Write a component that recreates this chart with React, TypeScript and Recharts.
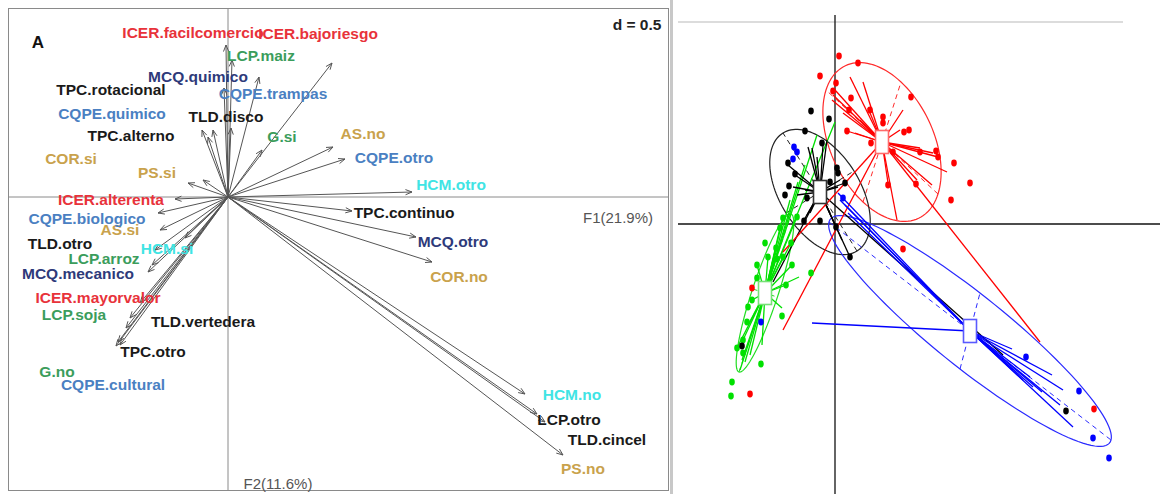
import React from 'react';
import { ScatterChart, Scatter, XAxis, YAxis, ReferenceLine, ReferenceDot } from 'recharts';

// ---------- Left panel: arrows (variable categories) ----------
const ARROW_TIPS = [
  { name: 'ICER.facilcomercio', x: -0.01, y: 0.76 },
  { name: 'ICER.bajoriesgo', x: 0.52, y: 0.67 },
  { name: 'LCP.maiz', x: 0.02, y: 0.685 },
  { name: 'MCQ.quimico', x: -0.02, y: 0.545 },
  { name: 'CQPE.trampas', x: 0.155, y: 0.6 },
  { name: 'TPC.rotacional', x: -0.13, y: 0.335 },
  { name: 'CQPE.quimico', x: -0.075, y: 0.335 },
  { name: 'TLD.disco', x: 0.015, y: 0.345 },
  { name: 'TPC.alterno', x: -0.1, y: 0.3 },
  { name: 'G.si', x: 0.17, y: 0.235 },
  { name: 'COR.si', x: -0.2, y: 0.07 },
  { name: 'PS.si', x: -0.125, y: 0.085 },
  { name: 'AS.no', x: 0.525, y: 0.25 },
  { name: 'CQPE.otro', x: 0.585, y: 0.19 },
  { name: 'HCM.otro', x: 0.92, y: 0.025 },
  { name: 'ICER.alterenta', x: -0.265, y: -0.01 },
  { name: 'CQPE.biologico', x: -0.35, y: -0.08 },
  { name: 'AS.si', x: -0.34, y: -0.165 },
  { name: 'TLD.otro', x: -0.365, y: -0.265 },
  { name: 'HCM.si', x: -0.215, y: -0.205 },
  { name: 'LCP.arroz', x: -0.38, y: -0.34 },
  { name: 'MCQ.mecanico', x: -0.4, y: -0.375 },
  { name: 'ICER.mayorvalor', x: -0.44, y: -0.53 },
  { name: 'LCP.soja', x: -0.49, y: -0.605 },
  { name: 'TLD.vertedera', x: -0.51, y: -0.655 },
  { name: 'TPC.otro', x: -0.55, y: -0.725 },
  { name: 'G.no', x: -0.56, y: -0.745 },
  { name: 'CQPE.cultural', x: -0.54, y: -0.74 },
  { name: 'TPC.continuo', x: 0.62, y: -0.07 },
  { name: 'MCQ.otro', x: 0.94, y: -0.2 },
  { name: 'COR.no', x: 1.02, y: -0.325 },
  { name: 'HCM.no', x: 1.485, y: -0.985 },
  { name: 'LCP.otro', x: 1.545, y: -1.085 },
  { name: 'TLD.cincel', x: 1.585, y: -1.125 },
  { name: 'PS.no', x: 1.675, y: -1.29 },
];

const LABEL_POS = [
  { name: 'ICER.facilcomercio', x: -0.175, y: 0.825 },
  { name: 'ICER.bajoriesgo', x: 0.45, y: 0.82 },
  { name: 'LCP.maiz', x: 0.165, y: 0.71 },
  { name: 'MCQ.quimico', x: -0.15, y: 0.605 },
  { name: 'CQPE.trampas', x: 0.225, y: 0.52 },
  { name: 'TPC.rotacional', x: -0.585, y: 0.54 },
  { name: 'CQPE.quimico', x: -0.58, y: 0.42 },
  { name: 'TLD.disco', x: -0.01, y: 0.405 },
  { name: 'TPC.alterno', x: -0.485, y: 0.31 },
  { name: 'G.si', x: 0.27, y: 0.305 },
  { name: 'COR.si', x: -0.785, y: 0.195 },
  { name: 'PS.si', x: -0.355, y: 0.125 },
  { name: 'AS.no', x: 0.675, y: 0.32 },
  { name: 'CQPE.otro', x: 0.83, y: 0.2 },
  { name: 'HCM.otro', x: 1.115, y: 0.065 },
  { name: 'ICER.alterenta', x: -0.585, y: -0.01 },
  { name: 'AS.si', x: -0.54, y: -0.16 },
  { name: 'CQPE.biologico', x: -0.705, y: -0.105 },
  { name: 'TLD.otro', x: -0.84, y: -0.23 },
  { name: 'HCM.si', x: -0.305, y: -0.255 },
  { name: 'LCP.arroz', x: -0.62, y: -0.305 },
  { name: 'MCQ.mecanico', x: -0.75, y: -0.38 },
  { name: 'ICER.mayorvalor', x: -0.65, y: -0.5 },
  { name: 'LCP.soja', x: -0.77, y: -0.585 },
  { name: 'TLD.vertedera', x: -0.125, y: -0.62 },
  { name: 'TPC.otro', x: -0.375, y: -0.77 },
  { name: 'G.no', x: -0.855, y: -0.87 },
  { name: 'CQPE.cultural', x: -0.575, y: -0.935 },
  { name: 'TPC.continuo', x: 0.88, y: -0.075 },
  { name: 'MCQ.otro', x: 1.125, y: -0.22 },
  { name: 'COR.no', x: 1.155, y: -0.395 },
  { name: 'HCM.no', x: 1.72, y: -0.985 },
  { name: 'LCP.otro', x: 1.705, y: -1.11 },
  { name: 'TLD.cincel', x: 1.895, y: -1.21 },
  { name: 'PS.no', x: 1.775, y: -1.355 },
];

const AXIS_TITLES = { f1: 'F1(21.9%)', f2: 'F2(11.6%)', panel: 'A', scale: 'd = 0.5' };

// ---------- Right panel: classes ----------
const CENTROIDS = [
  { group: 'red', x: 0.47, y: 0.82 },
  { group: 'black', x: -0.15, y: 0.32 },
  { group: 'green', x: -0.7, y: -0.69 },
  { group: 'blue', x: 1.35, y: -1.07 },
];

const ELLIPSE_AXES = [
  { group: 'red', ux: 0.19, uy: 0.6, vx: -0.56, vy: 0.52 },
  { group: 'black', ux: -0.37, uy: 0.59, vx: 0.34, vy: 0.21 },
  { group: 'green', ux: 0.26, uy: 0.79, vx: 0.124, vy: -0.041 },
  { group: 'blue', ux: 1.41, uy: -1.09, vx: 0.1, vy: 0.38 },
];

const STAR_RED = [
  { x: 0.15, y: 1.47 }, { x: 0.28, y: 1.42 }, { x: -0.03, y: 1.24 }, { x: 0.0, y: 1.34 },
  { x: 0.08, y: 1.11 }, { x: 0.25, y: 1.04 }, { x: 0.2, y: 0.91 }, { x: 0.33, y: 1.16 },
  { x: 0.68, y: 1.14 }, { x: 0.65, y: 0.94 }, { x: 0.85, y: 0.76 }, { x: 0.98, y: 0.71 },
  { x: 1.03, y: 0.67 }, { x: 1.12, y: 0.52 }, { x: 0.97, y: 0.39 }, { x: 0.82, y: 0.44 },
  { x: 0.62, y: 0.04 }, { x: 0.53, y: 0.41 }, { x: -0.02, y: 1.29 }, { x: 0.12, y: 0.93 },
  { x: -0.52, y: -0.28 }, { x: -0.52, y: -1.06 }, { x: 2.05, y: -1.18 },
];
const STAR_BLACK = [
  { x: -0.27, y: 0.77 }, { x: -0.23, y: 0.76 }, { x: -0.18, y: 0.67 }, { x: -0.12, y: 0.79 },
  { x: -0.08, y: 0.84 }, { x: -0.42, y: 0.37 }, { x: -0.38, y: 0.29 }, { x: -0.3, y: 0.34 },
  { x: -0.47, y: 0.59 }, { x: -0.4, y: 0.49 }, { x: 0.05, y: 0.44 }, { x: 0.03, y: 0.37 },
  { x: 0.1, y: 0.41 }, { x: -0.28, y: 0.09 }, { x: -0.25, y: 0.11 }, { x: -0.31, y: 0.04 },
  { x: -0.05, y: 0.11 }, { x: 0.01, y: -0.03 }, { x: 0.15, y: -0.33 }, { x: 1.68, y: -1.31 },
  { x: -0.62, y: -0.58 }, { x: 0.07, y: -0.16 },
];
const STAR_GREEN = [
  { x: 0.0, y: 1.02 }, { x: -0.18, y: 0.89 }, { x: -0.3, y: 0.59 }, { x: -0.37, y: 0.42 },
  { x: -0.45, y: 0.24 }, { x: -0.52, y: 0.06 }, { x: -0.38, y: 0.07 }, { x: -0.55, y: -0.04 },
  { x: -0.44, y: -0.19 }, { x: -0.59, y: -0.24 }, { x: -0.52, y: -0.33 }, { x: -0.43, y: -0.41 },
  { x: -0.67, y: -0.33 }, { x: -0.36, y: -0.53 }, { x: -0.53, y: -0.84 }, { x: -0.73, y: -1.21 },
  { x: -0.95, y: -1.46 }, { x: -0.9, y: -1.38 }, { x: -0.98, y: -1.24 }, { x: -0.92, y: -1.16 },
  { x: -0.87, y: -1.01 }, { x: -0.83, y: -0.76 }, { x: -0.78, y: -0.41 }, { x: -0.78, y: -0.54 },
  { x: -0.49, y: -0.61 }, { x: -0.85, y: -1.31 }, { x: -0.93, y: -1.36 },
];
const STAR_BLUE = [
  { x: -0.23, y: -0.99 }, { x: 0.03, y: 0.31 }, { x: 0.05, y: 0.24 }, { x: 0.1, y: 0.19 },
  { x: 0.13, y: 0.11 }, { x: 1.77, y: -1.25 }, { x: 2.17, y: -1.51 }, { x: 2.28, y: -1.66 },
  { x: 2.25, y: -1.81 }, { x: 2.38, y: -2.03 }, { x: 2.07, y: -1.68 }, { x: 1.98, y: -1.63 },
  { x: 1.88, y: -1.56 }, { x: 1.78, y: -1.46 }, { x: 1.95, y: -1.53 },
];

const DOTS_RED = [
  { x: 0.04, y: 1.68 }, { x: 0.23, y: 1.61 }, { x: -0.15, y: 1.48 }, { x: 0.01, y: 1.41 },
  { x: -0.02, y: 1.33 }, { x: 0.16, y: 1.26 }, { x: 0.14, y: 1.14 }, { x: 0.35, y: 1.14 },
  { x: 0.48, y: 1.07 }, { x: 0.48, y: 1.01 }, { x: 0.76, y: 1.27 }, { x: 0.12, y: 0.93 },
  { x: 0.36, y: 0.81 }, { x: 0.69, y: 0.92 }, { x: 0.74, y: 0.94 }, { x: 0.58, y: 0.72 },
  { x: 0.85, y: 0.72 }, { x: 1.01, y: 0.73 }, { x: 1.03, y: 0.67 }, { x: 1.19, y: 0.61 },
  { x: 1.35, y: 0.41 }, { x: 1.16, y: 0.24 }, { x: 0.53, y: 0.39 }, { x: 0.81, y: 0.4 },
  { x: 0.68, y: -0.25 }, { x: -0.83, y: -0.64 }, { x: 2.59, y: -1.85 }, { x: -0.85, y: -1.7 },
];
const DOTS_BLACK = [
  { x: -0.24, y: 1.13 }, { x: -0.06, y: 1.05 }, { x: -0.3, y: 0.93 }, { x: -0.13, y: 0.81 },
  { x: -0.47, y: 0.61 }, { x: -0.4, y: 0.5 }, { x: -0.46, y: 0.38 }, { x: -0.5, y: 0.29 },
  { x: -0.28, y: 0.26 }, { x: 0.02, y: 0.56 }, { x: 0.03, y: 0.51 }, { x: -0.05, y: 0.42 },
  { x: 0.1, y: 0.41 }, { x: -0.31, y: 0.03 }, { x: -0.15, y: 0.03 }, { x: 0.01, y: -0.03 },
  { x: 0.15, y: -0.33 }, { x: -0.93, y: -1.22 }, { x: 2.31, y: -1.87 },
];
const DOTS_BLUE = [
  { x: -0.41, y: 0.77 }, { x: -0.38, y: 0.72 }, { x: -0.42, y: 0.65 }, { x: 0.08, y: 0.26 },
  { x: -0.74, y: -0.98 }, { x: 1.91, y: -1.33 }, { x: 2.44, y: -1.67 }, { x: 2.58, y: -2.14 },
  { x: 2.74, y: -2.34 },
];
const DOTS_GREEN = [
  { x: -0.52, y: 0.06 }, { x: -0.38, y: 0.07 }, { x: -0.55, y: -0.04 }, { x: -0.7, y: -0.19 },
  { x: -0.44, y: -0.19 }, { x: -0.59, y: -0.24 }, { x: -0.67, y: -0.33 }, { x: -0.58, y: -0.35 },
  { x: -0.52, y: -0.33 }, { x: -0.78, y: -0.41 }, { x: -0.43, y: -0.41 }, { x: -0.24, y: -0.49 },
  { x: -0.78, y: -0.54 }, { x: -0.49, y: -0.61 }, { x: -0.83, y: -0.76 }, { x: -0.87, y: -0.83 },
  { x: -0.88, y: -0.98 }, { x: -0.53, y: -0.92 }, { x: -0.92, y: -1.16 }, { x: -0.98, y: -1.24 },
  { x: -0.92, y: -1.29 }, { x: -0.74, y: -1.4 }, { x: -1.03, y: -1.58 }, { x: -1.04, y: -1.72 },
];

// ---------- styles ----------
const FONT = "'Liberation Sans', Arial, Helvetica, sans-serif";
const PREFIX_COLOR: Record<string, string> = {
  ICER: '#e8323a',
  LCP: '#3b9d5c',
  G: '#3b9d5c',
  MCQ: '#2e3a7a',
  CQPE: '#4a80c2',
  COR: '#c9a24c',
  PS: '#c9a24c',
  AS: '#c9a24c',
  HCM: '#40e4e4',
  TPC: '#1a1a1a',
  TLD: '#1a1a1a',
};
const NAME_COLOR_OVERRIDE: Record<string, string> = { 'LCP.otro': '#1a1a1a' };
const labelColor = (n: string) => NAME_COLOR_OVERRIDE[n] || PREFIX_COLOR[n.split('.')[0]] || '#000';

const GROUP_COLOR: Record<string, string> = { red: '#ff0000', black: '#000000', green: '#00e000', blue: '#0000ff' };
const ELLIPSE_COLOR: Record<string, string> = { red: '#ff2a2a', black: '#222222', green: '#22dd22', blue: '#2a2aff' };
const BOX_COLOR: Record<string, string> = { red: '#ff6a6a', black: '#333333', green: '#77e077', blue: '#5a5aff' };
const STAR_SETS: { group: string; ends: { x: number; y: number }[] }[] = [
  { group: 'green', ends: STAR_GREEN },
  { group: 'black', ends: STAR_BLACK },
  { group: 'red', ends: STAR_RED },
  { group: 'blue', ends: STAR_BLUE },
];
const DOT_SETS: { group: string; dots: { x: number; y: number }[] }[] = [
  { group: 'green', dots: DOTS_GREEN },
  { group: 'black', dots: DOTS_BLACK },
  { group: 'red', dots: DOTS_RED },
  { group: 'blue', dots: DOTS_BLUE },
];

const arrowShape = (p: any) => {
  const { x1, y1, x2, y2 } = p;
  const ang = Math.atan2(y2 - y1, x2 - x1);
  const L = 7;
  const a = 0.38;
  const ax1 = x2 - L * Math.cos(ang - a);
  const ay1 = y2 - L * Math.sin(ang - a);
  const ax2 = x2 - L * Math.cos(ang + a);
  const ay2 = y2 - L * Math.sin(ang + a);
  return (
    <g stroke="#555" strokeWidth={1} fill="none">
      <line x1={x1} y1={y1} x2={x2} y2={y2} />
      <polyline points={`${ax1},${ay1} ${x2},${y2} ${ax2},${ay2}`} />
    </g>
  );
};

const makeEllipseShape = (e: { ux: number; uy: number; vx: number; vy: number }, color: string) => (p: any) => {
  const { x1, y1, x2, y2 } = p;
  const Ux = x2 - x1;
  const Uy = y2 - y1;
  const sx = Ux / e.ux;
  const sy = Uy / e.uy;
  const Vx = e.vx * sx;
  const Vy = e.vy * sy;
  const pts: string[] = [];
  const n = 120;
  for (let i = 0; i <= n; i++) {
    const t = (i / n) * Math.PI * 2;
    pts.push(`${(x1 + Math.cos(t) * Ux + Math.sin(t) * Vx).toFixed(2)},${(y1 + Math.cos(t) * Uy + Math.sin(t) * Vy).toFixed(2)}`);
  }
  return (
    <g fill="none" stroke={color}>
      <path d={'M' + pts.join('L') + 'Z'} strokeWidth={1.2} />
      <line x1={x1 - Ux} y1={y1 - Uy} x2={x1 + Ux} y2={y1 + Uy} strokeWidth={1} strokeDasharray="5 4" />
      <line x1={x1 - Vx} y1={y1 - Vy} x2={x1 + Vx} y2={y1 + Vy} strokeWidth={1} strokeDasharray="5 4" />
    </g>
  );
};

const labelShape = (p: any) => {
  const name = p.payload?.name ?? '';
  return (
    <text
      x={p.cx}
      y={p.cy}
      textAnchor="middle"
      dominantBaseline="central"
      fontFamily={FONT}
      fontWeight="bold"
      fontSize={15.5}
      fill={labelColor(name)}
    >
      {name}
    </text>
  );
};

const makeDotShape = (color: string) => (p: any) => (
  <ellipse cx={p.cx} cy={p.cy} rx={2.8} ry={3.4} fill={color} />
);

const makeBoxShape = (color: string) => (p: any) => (
  <rect x={p.cx - 6.5} y={p.cy - 11.5} width={13} height={23} fill="#fff" stroke={color} strokeWidth={1.6} />
);

const absText = (left: number, top: number, style: React.CSSProperties, txt: string) => (
  <div
    style={{
      position: 'absolute',
      left,
      top,
      transform: 'translate(-50%, -50%)',
      whiteSpace: 'nowrap',
      lineHeight: 1,
      fontFamily: FONT,
      ...style,
    }}
  >
    {txt}
  </div>
);

export default function App() {
  return (
    <div style={{ position: 'absolute', left: 0, top: 0, width: 1160, height: 494, background: '#fff', overflow: 'hidden' }}>
      {/* Left panel */}
      <div style={{ position: 'absolute', left: 8, top: 8, width: 660, height: 482 }}>
        <ScatterChart width={660} height={482} margin={{ top: 0, right: 0, bottom: 0, left: 0 }}>
          <XAxis type="number" dataKey="x" domain={[-1.1, 2.2]} hide allowDataOverflow />
          <YAxis type="number" dataKey="y" domain={[-1.465, 0.945]} hide allowDataOverflow />
          <ReferenceLine x={0} stroke="#8a8a8a" strokeWidth={1} ifOverflow="visible" />
          <ReferenceLine y={0} stroke="#8a8a8a" strokeWidth={1} ifOverflow="visible" />
          {ARROW_TIPS.map((a) => (
            <ReferenceLine
              key={'arr-' + a.name}
              segment={[{ x: 0, y: 0 }, { x: a.x, y: a.y }]}
              shape={arrowShape}
              ifOverflow="visible"
            />
          ))}
          <Scatter data={LABEL_POS} shape={labelShape} isAnimationActive={false} />
        </ScatterChart>
      </div>
      <div
        style={{
          position: 'absolute',
          left: 8,
          top: 8,
          width: 661,
          height: 483,
          border: '1.5px solid #8a8a8a',
          boxSizing: 'border-box',
          pointerEvents: 'none',
        }}
      />
      {absText(38, 42, { fontWeight: 'bold', fontSize: 17, color: '#111' }, AXIS_TITLES.panel)}
      {absText(637, 25, { fontWeight: 'bold', fontSize: 15.5, color: '#222' }, AXIS_TITLES.scale)}
      {absText(618, 217, { fontSize: 15, color: '#555' }, AXIS_TITLES.f1)}
      {absText(278, 483, { fontSize: 15, color: '#555' }, AXIS_TITLES.f2)}

      {/* Right panel */}
      <div style={{ position: 'absolute', left: 670, top: 0, width: 3, height: 494, background: '#c8c8c8' }} />
      <div style={{ position: 'absolute', left: 672, top: 0, width: 488, height: 494 }}>
        <ScatterChart width={488} height={494} margin={{ top: 0, right: 0, bottom: 0, left: 0 }}>
          <XAxis type="number" dataKey="x" domain={[-1.63, 3.25]} hide allowDataOverflow />
          <YAxis type="number" dataKey="y" domain={[-2.7, 2.24]} hide allowDataOverflow />
          <ReferenceLine
            segment={[{ x: -1.57, y: 2.02 }, { x: 2.88, y: 2.02 }]}
            stroke="#d0d0d0"
            strokeWidth={1.5}
            ifOverflow="visible"
          />
          <ReferenceLine
            segment={[{ x: -1.57, y: 0 }, { x: 3.25, y: 0 }]}
            stroke="#111"
            strokeWidth={1.3}
            ifOverflow="visible"
          />
          <ReferenceLine
            segment={[{ x: 0, y: 2.09 }, { x: 0, y: -2.7 }]}
            stroke="#111"
            strokeWidth={1.3}
            ifOverflow="visible"
          />
          {ELLIPSE_AXES.map((e) => {
            const c = CENTROIDS.find((k) => k.group === e.group)!;
            return (
              <ReferenceLine
                key={'ell-' + e.group}
                segment={[{ x: c.x, y: c.y }, { x: c.x + e.ux, y: c.y + e.uy }]}
                shape={makeEllipseShape(e, ELLIPSE_COLOR[e.group])}
                ifOverflow="visible"
              />
            );
          })}
          {STAR_SETS.map((s) => {
            const c = CENTROIDS.find((k) => k.group === s.group)!;
            return s.ends.map((p, i) => (
              <ReferenceLine
                key={`star-${s.group}-${i}`}
                segment={[{ x: c.x, y: c.y }, { x: p.x, y: p.y }]}
                stroke={GROUP_COLOR[s.group]}
                strokeWidth={1.3}
                ifOverflow="visible"
              />
            ));
          })}
          {DOT_SETS.map((d) => (
            <Scatter
              key={'dots-' + d.group}
              data={d.dots}
              shape={makeDotShape(GROUP_COLOR[d.group])}
              isAnimationActive={false}
            />
          ))}
          {CENTROIDS.map((c) => (
            <ReferenceDot
              key={'box-' + c.group}
              x={c.x}
              y={c.y}
              r={6}
              shape={makeBoxShape(BOX_COLOR[c.group])}
              ifOverflow="visible"
            />
          ))}
        </ScatterChart>
      </div>
    </div>
  );
}
